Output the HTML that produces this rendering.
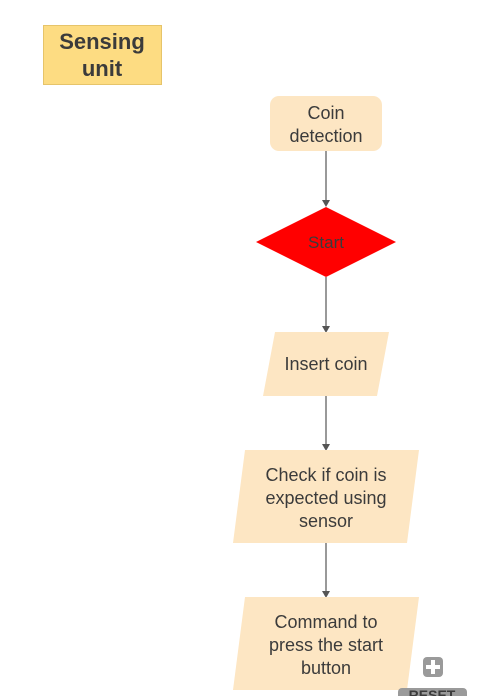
<!DOCTYPE html>
<html><head><style>
html,body{margin:0;padding:0;background:#fff;width:481px;height:696px;overflow:hidden}
text{font-family:"Liberation Sans",sans-serif;fill:#3b3b3b}
</style></head><body>
<svg width="481" height="696" viewBox="0 0 481 696" xmlns="http://www.w3.org/2000/svg">
<rect x="43.5" y="25.5" width="118" height="59" fill="#fddc82" stroke="#e6c46a"/>
<text x="102" y="49" font-size="22" font-weight="bold" text-anchor="middle" fill="#333">Sensing</text>
<text x="102" y="76" font-size="22" font-weight="bold" text-anchor="middle" fill="#333">unit</text>
<rect x="270" y="96" width="112" height="55" rx="9" fill="#fde6c3"/>
<text x="326" y="119" font-size="18" text-anchor="middle">Coin</text>
<text x="326" y="142" font-size="18" text-anchor="middle">detection</text>
<g stroke="#555" stroke-width="1.2">
<line x1="326" y1="151" x2="326" y2="201"/>
<line x1="326" y1="277" x2="326" y2="327"/>
<line x1="326" y1="396" x2="326" y2="445"/>
<line x1="326" y1="543" x2="326" y2="592"/>
</g>
<g fill="#555">
<path d="M322,200 L330,200 L326,207 Z"/>
<path d="M322,326 L330,326 L326,333 Z"/>
<path d="M322,444 L330,444 L326,451 Z"/>
<path d="M322,591 L330,591 L326,598 Z"/>
</g>
<polygon points="326,207 396,242 326,277 256,242" fill="#ff0000"/>
<text x="326" y="248" font-size="17" text-anchor="middle" fill="#7a1515">Start</text>
<polygon points="275,332 389,332 377,396 263,396" fill="#fde6c3"/>
<text x="326" y="370" font-size="18" text-anchor="middle">Insert coin</text>
<polygon points="245,450 419,450 407,543 233,543" fill="#fde6c3"/>
<text x="326" y="481" font-size="18" text-anchor="middle">Check if coin is</text>
<text x="326" y="504" font-size="18" text-anchor="middle">expected using</text>
<text x="326" y="527" font-size="18" text-anchor="middle">sensor</text>
<polygon points="245,597 419,597 407,690 233,690" fill="#fde6c3"/>
<text x="326" y="628" font-size="18" text-anchor="middle">Command to</text>
<text x="326" y="651" font-size="18" text-anchor="middle">press the start</text>
<text x="326" y="674" font-size="18" text-anchor="middle">button</text>
<rect x="423" y="657" width="20" height="20" rx="4" fill="#9a9a9a"/>
<rect x="431" y="660" width="4" height="14" fill="#fff"/>
<rect x="426" y="665" width="14" height="4" fill="#fff"/>
<rect x="398" y="688" width="69" height="14" rx="4" fill="#9a9a9a"/>
<text x="432" y="700" font-size="14" font-weight="bold" text-anchor="middle" fill="#fff">RESET</text>
</svg>
</body></html>
